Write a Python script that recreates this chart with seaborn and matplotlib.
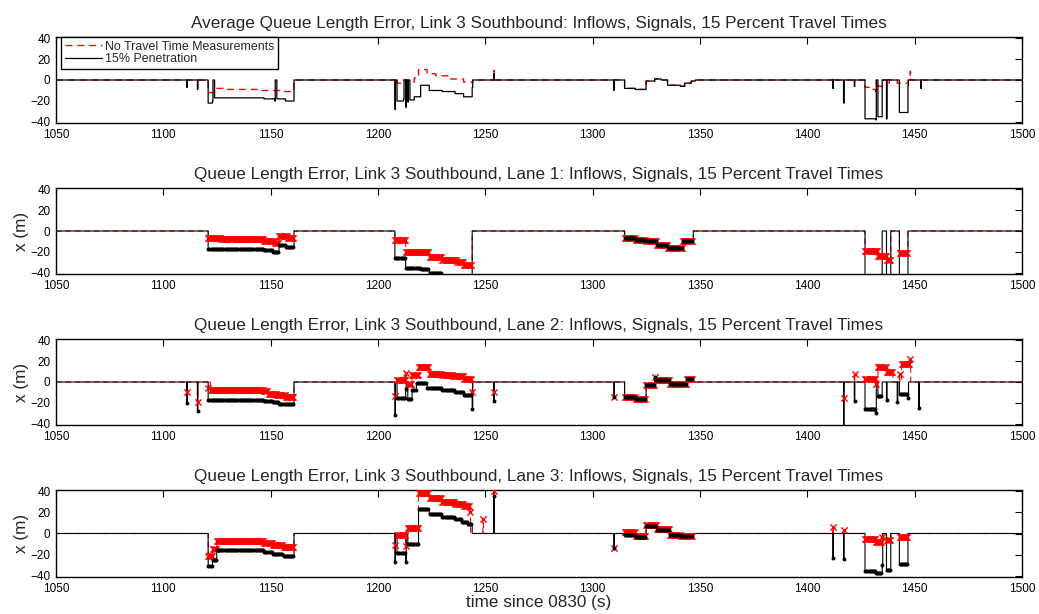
import numpy as np
import pandas as pd
import matplotlib
matplotlib.use("Agg")
import matplotlib.pyplot as plt
import seaborn as sns

# ---------------- data ----------------
T_START, T_END = 1050, 1500
X_TICKS = [1050, 1100, 1150, 1200, 1250, 1300, 1350, 1400, 1450, 1500]
Y_TICKS = [-40, -20, 0, 20, 40]

TITLES = [
    "Average Queue Length Error, Link 3 Southbound: Inflows, Signals, 15 Percent Travel Times",
    "Queue Length Error, Link 3 Southbound, Lane 1: Inflows, Signals, 15 Percent Travel Times",
    "Queue Length Error, Link 3 Southbound, Lane 2: Inflows, Signals, 15 Percent Travel Times",
    "Queue Length Error, Link 3 Southbound, Lane 3: Inflows, Signals, 15 Percent Travel Times",
]
LEGEND_LABELS = ["No Travel Time Measurements", "15% Penetration"]
X_LABEL = "time since 0830 (s)"
Y_LABEL = "x (m)"

# step segments: (start s, end s, error m); zero elsewhere
AVG_NO_TT = [
    (1121, 1123, -12), (1124, 1127, -8), (1128, 1145, -9), (1146, 1155, -10), (1156, 1160, -11),
    (1208, 1208, -8), (1209, 1211, -3), (1213, 1213, -11), (1214, 1216, -2), (1217, 1218, 2),
    (1219, 1222, 10), (1223, 1226, 6), (1227, 1233, 4), (1234, 1239, 1), (1240, 1243, -2),
    (1244, 1244, -3), (1254, 1254, 9),
    (1315, 1319, -8), (1320, 1324, -9), (1325, 1328, -1), (1329, 1331, 1), (1335, 1340, -5),
    (1341, 1342, -6), (1343, 1345, -3), (1346, 1347, -1),
    (1412, 1412, 2), (1427, 1429, -7), (1430, 1431, -9), (1432, 1432, -11), (1433, 1434, -6),
    (1438, 1438, -4), (1442, 1446, -3), (1448, 1448, 8),
]
AVG_15 = [
    (1111, 1111, -7), (1116, 1116, -9),
    (1121, 1122, -22), (1123, 1123, -20), (1124, 1146, -17), (1147, 1151, -18), (1152, 1152, -20),
    (1153, 1156, -18), (1157, 1160, -20),
    (1208, 1208, -28), (1209, 1211, -20), (1212, 1212, -18), (1213, 1213, -26), (1214, 1214, -21),
    (1215, 1216, -19), (1217, 1219, -16), (1220, 1223, -5), (1224, 1229, -10), (1230, 1235, -11),
    (1236, 1239, -13), (1240, 1243, -16), (1244, 1244, -7), (1254, 1254, 6),
    (1310, 1310, -10), (1315, 1319, -8), (1320, 1324, -9), (1325, 1328, -1), (1329, 1331, 1),
    (1335, 1340, -5), (1341, 1342, -6), (1343, 1345, -3), (1346, 1347, -1),
    (1412, 1412, -8), (1417, 1417, -22), (1422, 1422, -6), (1427, 1431, -37), (1432, 1432, -38),
    (1433, 1434, -35), (1437, 1437, -37), (1443, 1446, -31), (1447, 1447, -5), (1453, 1453, -8),
]

L1_NO_TT = [
    (1121, 1126, -7), (1127, 1146, -8), (1147, 1151, -10), (1152, 1153, -11), (1154, 1157, -5),
    (1158, 1160, -7),
    (1208, 1212, -9), (1213, 1223, -20), (1224, 1229, -25), (1230, 1236, -28), (1237, 1239, -30),
    (1240, 1243, -32),
    (1315, 1319, -7), (1320, 1324, -9), (1325, 1329, -10), (1330, 1334, -13), (1335, 1341, -16),
    (1342, 1346, -10),
    (1427, 1432, -19), (1433, 1436, -24), (1437, 1438, -28), (1443, 1446, -21),
]
L1_15 = [
    (1121, 1146, -17), (1147, 1150, -18), (1151, 1153, -20), (1154, 1156, -13), (1157, 1160, -15),
    (1208, 1212, -26), (1213, 1219, -35), (1220, 1223, -36), (1224, 1229, -40), (1230, 1243, -46),
    (1315, 1319, -7), (1320, 1324, -9), (1325, 1329, -10), (1330, 1334, -13), (1335, 1341, -16),
    (1342, 1346, -10),
    (1427, 1434, -46), (1437, 1438, -46), (1443, 1446, -46),
]

L2_NO_TT = [
    (1111, 1111, -10), (1116, 1116, -19),
    (1121, 1121, -6), (1122, 1146, -8), (1147, 1148, -9), (1149, 1152, -11), (1153, 1156, -12),
    (1157, 1160, -14),
    (1208, 1208, -13), (1209, 1212, 2), (1213, 1213, 9), (1214, 1215, -2), (1216, 1218, 7),
    (1219, 1223, 14), (1224, 1229, 8), (1230, 1234, 7), (1235, 1239, 6), (1240, 1243, 3),
    (1244, 1244, -10), (1254, 1254, -10),
    (1310, 1310, -14), (1315, 1319, -14), (1320, 1324, -16), (1325, 1328, -3), (1329, 1329, 5),
    (1330, 1335, 2), (1336, 1343, -2), (1344, 1346, 3),
    (1417, 1417, -15), (1422, 1422, 8), (1427, 1431, 3), (1432, 1432, -2), (1433, 1436, 14),
    (1437, 1439, 10), (1443, 1443, 8), (1444, 1447, 17), (1448, 1448, 22),
]
L2_15 = [
    (1111, 1111, -20), (1116, 1116, -28),
    (1121, 1146, -17), (1147, 1150, -18), (1151, 1153, -19), (1154, 1160, -21),
    (1208, 1208, -31), (1209, 1212, -15), (1213, 1213, -7), (1214, 1215, -16), (1216, 1217, -8),
    (1218, 1222, -1), (1223, 1229, -6), (1230, 1235, -8), (1236, 1239, -10), (1240, 1243, -12),
    (1244, 1244, -26), (1254, 1254, -18),
    (1310, 1310, -14), (1315, 1319, -14), (1320, 1324, -16), (1325, 1328, -3), (1329, 1329, 5),
    (1330, 1335, 2), (1336, 1343, -2), (1344, 1346, 3),
    (1417, 1417, -45), (1422, 1422, -18), (1427, 1431, -26), (1432, 1432, -30), (1433, 1434, -13),
    (1437, 1437, -17), (1442, 1442, -19), (1443, 1446, -11), (1447, 1447, -15), (1452, 1452, -25),
]

L3_NO_TT = [
    (1121, 1122, -21), (1123, 1124, -15), (1125, 1146, -7), (1147, 1150, -9), (1151, 1155, -11),
    (1156, 1160, -13),
    (1208, 1208, -11), (1209, 1212, -1), (1213, 1213, -12), (1214, 1218, 5), (1219, 1223, 38),
    (1224, 1229, 33), (1230, 1235, 30), (1236, 1239, 28), (1240, 1242, 26), (1243, 1243, 20),
    (1249, 1249, 14), (1254, 1254, 40),
    (1310, 1310, -14), (1315, 1319, 1), (1320, 1324, -2), (1325, 1329, 8), (1330, 1335, 4),
    (1336, 1340, -1), (1341, 1346, -2),
    (1412, 1412, 6), (1417, 1417, 3), (1427, 1431, -5), (1432, 1434, -8), (1435, 1435, -3),
    (1437, 1438, -6), (1443, 1446, -3),
]
L3_15 = [
    (1121, 1122, -31), (1123, 1124, -25), (1125, 1146, -16), (1147, 1150, -17), (1151, 1155, -19),
    (1156, 1160, -21),
    (1208, 1208, -27), (1209, 1212, -18), (1213, 1213, -27), (1214, 1218, -10), (1219, 1223, 23),
    (1224, 1229, 18), (1230, 1235, 16), (1236, 1238, 14), (1239, 1241, 11), (1242, 1243, 9),
    (1254, 1254, 35),
    (1310, 1310, -14), (1315, 1319, -1), (1320, 1324, -3), (1325, 1329, 7), (1330, 1335, 3),
    (1336, 1340, -1), (1341, 1346, -2),
    (1412, 1412, -23), (1417, 1417, -24), (1427, 1431, -35), (1432, 1434, -37), (1435, 1435, -30),
    (1437, 1438, -34), (1443, 1446, -29),
]

PANELS = [
    (AVG_NO_TT, AVG_15),
    (L1_NO_TT, L1_15),
    (L2_NO_TT, L2_15),
    (L3_NO_TT, L3_15),
]

DT = 0.25  # sampling step used to lay the step segments out on the time axis


def build(segments):
    t = np.round(np.arange(T_START, T_END + DT / 2, DT), 4)
    v = np.zeros(t.shape, dtype=float)
    for a, b, val in segments:
        stop = b + 1 if b > a else a + DT
        v[(t >= a) & (t < stop - 1e-9)] = val
    return pd.DataFrame({"t": t, "v": v})


def marker_rows(df):
    on_grid = np.isclose((df["t"] * 2) % 1, 0)
    return df[(df["v"] != 0) & on_grid]


# ---------------- style ----------------
sns.set_style("white")
plt.rcParams["font.family"] = ["Liberation Sans", "DejaVu Sans"]
plt.rcParams["axes.unicode_minus"] = True

fig = plt.figure(figsize=(10.39, 6.14), dpi=100)
W, H = 1039.0, 614.0
left, right = 56, 1022
tops_bottoms = [(37, 123), (188, 274), (339, 425), (490, 577)]

DASH = (0, (5, 3.5))
BIG = 12.3

for i, ((red_seg, blk_seg), (top, bot)) in enumerate(zip(PANELS, tops_bottoms)):
    ax = fig.add_axes([left / W, 1 - bot / H, (right - left) / W, (bot - top) / H])
    red = build(red_seg)
    blk = build(blk_seg)

    if i == 0:
        sns.lineplot(data=red, x="t", y="v", color="red", linestyle=DASH, linewidth=1.0,
                     drawstyle="steps-mid", estimator=None, ax=ax, zorder=2)
        sns.lineplot(data=blk, x="t", y="v", color="black", linewidth=0.9,
                     drawstyle="steps-mid", estimator=None, ax=ax, zorder=3)
        handles = [ax.lines[0], ax.lines[1]]
        leg = ax.legend(handles, LEGEND_LABELS, loc="upper left",
                        bbox_to_anchor=(0.005, 1.0), fontsize=8.9,
                        frameon=True, fancybox=False, edgecolor="black", framealpha=1,
                        borderaxespad=0.0, handlelength=3.0, borderpad=0.3,
                        labelspacing=0.05, handletextpad=0.3)
        leg.get_frame().set_linewidth(1.0)
        ax.set_ylabel("")
    else:
        sns.lineplot(data=red, x="t", y="v", color="red", linestyle=DASH, linewidth=0.8,
                     drawstyle="steps-mid", estimator=None, ax=ax, zorder=2)
        sns.lineplot(data=blk, x="t", y="v", color="black", linewidth=0.8,
                     drawstyle="steps-mid", estimator=None, ax=ax, zorder=3)
        sns.scatterplot(data=marker_rows(red), x="t", y="v", color="red", marker="x",
                        s=20, linewidth=1.0, ax=ax, zorder=4, legend=False)
        sns.scatterplot(data=marker_rows(blk), x="t", y="v", color="black", marker="o",
                        s=8, linewidth=0, ax=ax, zorder=5, legend=False)
        ax.set_ylabel(Y_LABEL, fontsize=BIG, labelpad=1)

    ax.set_xlim(T_START, T_END)
    ax.set_ylim(-41, 41)
    ax.set_xticks(X_TICKS)
    ax.set_yticks(Y_TICKS)
    ax.tick_params(direction="in", top=True, right=True, length=5, width=0.8,
                   labelsize=8.5, colors="black", pad=4)
    for sp in ax.spines.values():
        sp.set_visible(True)
        sp.set_color("black")
        sp.set_linewidth(1.0)
    ax.set_title(TITLES[i], fontsize=BIG, pad=6.5)
    if i == 3:
        ax.set_xlabel(X_LABEL, fontsize=BIG, labelpad=0)
    else:
        ax.set_xlabel("")

fig.savefig("out.png", dpi=100)
